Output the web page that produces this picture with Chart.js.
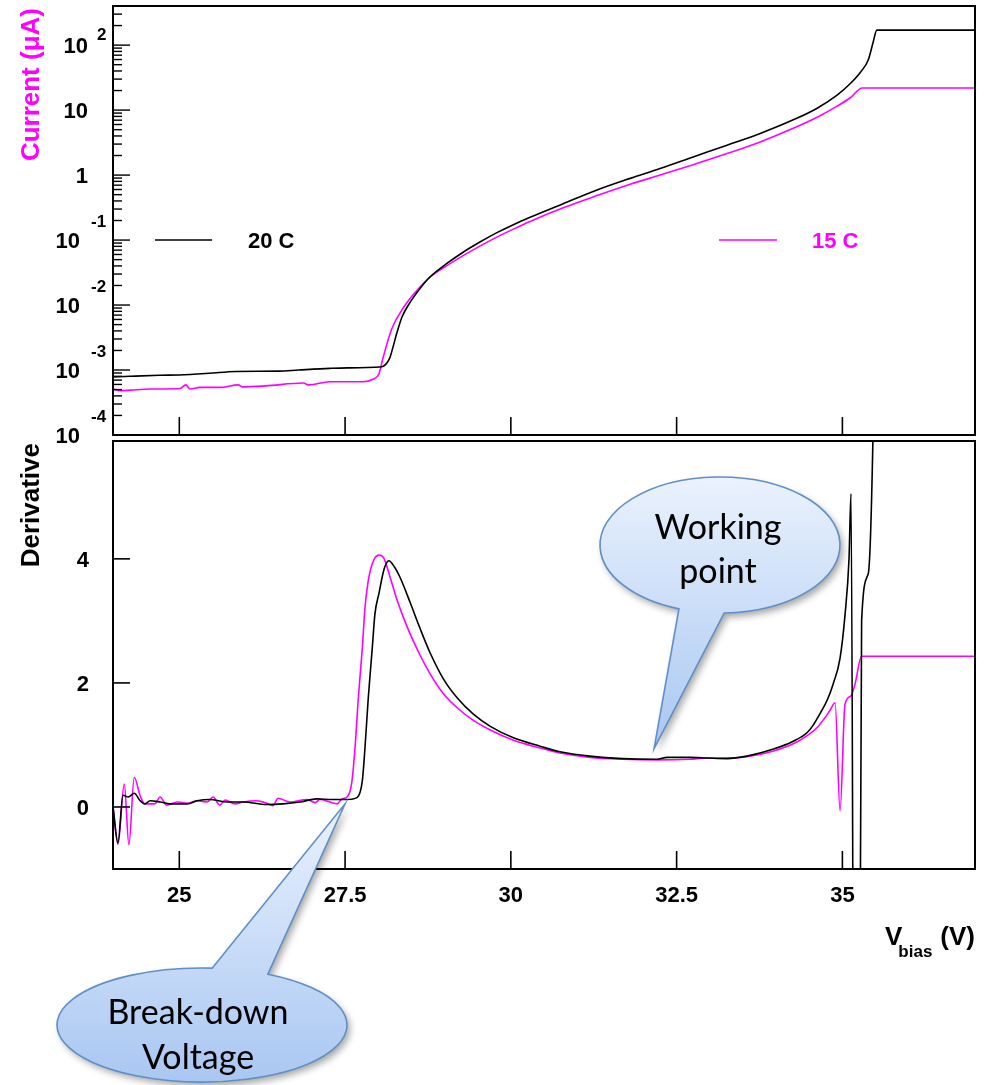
<!DOCTYPE html>
<html>
<head>
<meta charset="utf-8">
<title>SiPM current and derivative vs bias</title>
<script src="https://cdn.jsdelivr.net/npm/chart.js@4/dist/chart.umd.min.js"></script>
<style>
  html, body { margin: 0; padding: 0; background: #fff; }
  #wrap { position: relative; width: 988px; height: 1085px; overflow: hidden; }
  #wrap canvas { position: absolute; left: 0; top: 0; }
</style>
</head>
<body>
<div id="wrap">
  <canvas id="iv" width="988" height="1085"></canvas>
  <canvas id="deriv" width="988" height="1085"></canvas>
</div>
<script>
// ---- measured data -------------------------------------------------------
const seriesLabels = ['20 C', '15 C'];
const seriesColors = ['#000000', '#ff00ff'];

// I-V curve at 20 C: bias (V) and current (uA)
const iv20V = [24.0, 24.26, 24.7, 25.0, 25.45, 25.85, 26.5, 26.8, 27.27, 27.53,
  28.03, 28.17, 28.22, 28.28, 28.36, 28.48, 28.63, 28.78, 29.04, 29.28,
  29.54, 29.79, 30.03, 30.29, 30.79, 31.3, 31.8, 32.25, 32.75, 33.26,
  33.76, 34.26, 34.62, 34.92, 35.12, 35.27, 35.39, 35.46, 35.52, 37.0];
const iv20I = [7.8e-4, 8.0e-4, 8.3e-4, 8.4e-4, 8.9e-4, 9.5e-4, 9.6e-4, 1.0e-3, 1.06e-3, 1.08e-3,
  1.11e-3, 1.5e-3, 2.2e-3, 3.7e-3, 6.6e-3, 0.011, 0.018, 0.027, 0.044, 0.065,
  0.094, 0.13, 0.171, 0.224, 0.363, 0.59, 0.89, 1.26, 1.9, 2.88,
  4.37, 7.08, 10.7, 17, 25.7, 38, 58.9, 107, 170, 170];

// I-V curve at 15 C
const iv15V = [24.0, 24.1, 24.26, 24.56, 25.01, 25.1, 25.16, 25.31, 25.61, 25.89,
  25.95, 26.3, 26.87, 26.95, 27.27, 27.77, 27.92, 28.01, 28.07, 28.2,
  28.33, 28.48, 28.63, 28.78, 29.04, 29.28, 29.54, 29.79, 30.03, 30.29,
  30.79, 31.3, 31.8, 32.25, 32.75, 33.26, 33.76, 34.26, 34.62, 34.92,
  35.12, 35.3, 37.0];
const iv15I = [5.1e-4, 4.8e-4, 4.9e-4, 5.1e-4, 5.2e-4, 5.9e-4, 5.1e-4, 5.4e-4, 5.4e-4, 5.9e-4,
  5.5e-4, 5.7e-4, 6.3e-4, 5.9e-4, 6.6e-4, 6.6e-4, 7.2e-4, 8.7e-4, 1.5e-3, 4.2e-3,
  7.6e-3, 0.0126, 0.019, 0.027, 0.0407, 0.0575, 0.0813, 0.111, 0.146, 0.193,
  0.313, 0.484, 0.724, 1.0, 1.445, 2.14, 3.24, 5.25, 7.76, 11.5,
  15.5, 21.9, 21.9];

// logarithmic derivative at 20 C
const d20V = [24.0, 24.075, 24.15, 24.23, 24.32, 24.41, 24.48, 24.56, 24.71, 24.86,
  25.12, 25.27, 25.46, 25.72, 25.96, 26.32, 26.56, 26.82, 27.07, 27.32,
  27.53, 27.68, 27.76, 27.80, 27.85, 27.91, 27.95, 28.01, 28.09, 28.16,
  28.25, 28.33, 28.48, 28.63, 28.78, 28.98, 29.19, 29.43, 29.69, 30.03,
  30.44, 30.74, 31.19, 31.69, 32.2, 32.36, 32.7, 32.96, 33.26, 33.56,
  33.95, 34.26, 34.47, 34.56, 34.66, 34.77, 34.86, 34.965, 35.04, 35.10,
  35.13, 35.18, 35.25, 35.29, 35.39, 35.46, 35.5];
const d20D = [0.0, -0.58, 0.19, 0.16, 0.22, 0.10, 0.05, 0.10, 0.08, 0.05,
  0.05, 0.10, 0.12, 0.08, 0.08, 0.04, 0.05, 0.08, 0.13, 0.12,
  0.12, 0.15, 0.42, 0.95, 1.76, 2.56, 3.11, 3.44, 3.84, 3.97,
  3.86, 3.70, 3.30, 2.88, 2.49, 2.07, 1.76, 1.50, 1.30, 1.12,
  0.98, 0.89, 0.82, 0.78, 0.77, 0.80, 0.80, 0.79, 0.78, 0.82,
  0.93, 1.06, 1.20, 1.32, 1.50, 1.72, 1.98, 2.40, 3.10, 4.00,
  5.05, -6, -6, 3.0, 3.76, 5.9, 9];

// logarithmic derivative at 15 C
const d15V = [24.0, 24.075, 24.17, 24.24, 24.32, 24.41, 24.48, 24.63, 24.71, 24.81,
  24.97, 25.12, 25.27, 25.42, 25.51, 25.61, 25.69, 25.84, 25.96, 26.17,
  26.32, 26.41, 26.49, 26.67, 26.92, 27.05, 27.12, 27.27, 27.38, 27.45,
  27.53, 27.60, 27.65, 27.70, 27.76, 27.80, 27.85, 27.92, 28.01, 28.09,
  28.18, 28.28, 28.43, 28.63, 28.78, 28.98, 29.19, 29.43, 29.69, 30.03,
  30.44, 30.74, 31.19, 31.69, 32.2, 32.7, 32.96, 33.26, 33.56, 33.95,
  34.26, 34.47, 34.62, 34.81, 34.89, 34.965, 35.04, 35.13, 35.19, 35.29, 37.0];
const d15D = [0.0, -0.60, 0.37, -0.61, 0.48, 0.18, 0.05, 0.05, 0.16, 0.03,
  0.08, 0.06, 0.10, 0.08, 0.16, 0.03, 0.11, 0.05, 0.08, 0.10,
  0.06, 0.02, 0.14, 0.08, 0.12, 0.07, 0.12, 0.08, 0.05, 0.13,
  0.16, 0.39, 0.95, 1.76, 2.56, 3.21, 3.65, 3.95, 4.06, 4.00,
  3.70, 3.35, 2.92, 2.45, 2.15, 1.83, 1.60, 1.40, 1.24, 1.08,
  0.95, 0.87, 0.80, 0.77, 0.76, 0.77, 0.79, 0.79, 0.81, 0.90,
  1.02, 1.15, 1.28, 1.55, 1.68, -0.06, 1.66, 1.79, 1.98, 2.43, 2.43];

// axis ticks
const biasTicks = [25, 27.5, 30, 32.5, 35];
const biasRange = [24, 37];
const currentDecades = [-4, -3, -2, -1, 0, 1, 2];
const currentRange = [1e-4, 400];
const derivTicks = [0, 2, 4];
const derivRange = [-1, 5.9];

// callout notes: text lines and the point (bias, derivative) they point at
const noteWorking = { lines: ['Working', 'point'], at: [32.16, 0.94] };
const noteBreakdown = { lines: ['Break-down', 'Voltage'], at: [27.5, 0.05] };

// ---- helpers ---------------------------------------------------------------
const AX_FONT = '"Liberation Sans", Arial, Helvetica, sans-serif';
const NOTE_FONT = 'Lato, "Open Sans", sans-serif';

function pairs(xs, ys) { return xs.map((x, i) => ({ x: x, y: ys[i] })); }

function lineSet(label, xs, ys, color) {
  return {
    label: label, data: pairs(xs, ys), borderColor: color, backgroundColor: color,
    borderWidth: 1.6, pointRadius: 0, fill: false, cubicInterpolationMode: 'monotone'
  };
}

function drawFrame(ctx, a) {
  ctx.save();
  ctx.strokeStyle = '#000';
  ctx.lineWidth = 2;
  ctx.strokeRect(a.left, a.top, a.right - a.left, a.bottom - a.top);
  ctx.restore();
}

function tickLine(ctx, x1, y1, x2, y2) {
  ctx.beginPath(); ctx.moveTo(x1, y1); ctx.lineTo(x2, y2); ctx.stroke();
}

function drawBiasTicks(ctx, a, xs) {
  ctx.save();
  ctx.strokeStyle = '#000'; ctx.lineWidth = 1.6;
  biasTicks.forEach(v => {
    const px = xs.getPixelForValue(v);
    tickLine(ctx, px, a.bottom, px, a.bottom - 18);
  });
  ctx.restore();
}

function verticalTitle(ctx, text, color, baselineX, topY) {
  ctx.save();
  ctx.translate(baselineX, topY);
  ctx.rotate(-Math.PI / 2);
  ctx.font = 'bold 26px ' + AX_FONT;
  ctx.fillStyle = color;
  ctx.textAlign = 'right';
  ctx.textBaseline = 'alphabetic';
  ctx.fillText(text, 0, 0);
  ctx.restore();
}

// speech-bubble note: ellipse joined to a pointed tail
function drawNote(ctx, note, tip, shape) {
  const pt = t => [shape.cx + shape.rx * Math.cos(t), shape.cy + shape.ry * Math.sin(t)];
  const tA = shape.tailLeft * Math.PI / 180;
  const tB = shape.tailRight * Math.PI / 180;
  const A = pt(tA), B = pt(tB);
  const top = Math.min(shape.cy - shape.ry, tip[1]);
  const bot = Math.max(shape.cy + shape.ry, tip[1]);

  ctx.save();
  ctx.beginPath();
  ctx.moveTo(A[0], A[1]);
  ctx.lineTo(tip[0], tip[1]);
  ctx.lineTo(B[0], B[1]);
  ctx.ellipse(shape.cx, shape.cy, shape.rx, shape.ry, 0, tB, tA, tB < tA);
  ctx.closePath();

  const g = ctx.createLinearGradient(0, top, 0, bot);
  g.addColorStop(0, '#eaf2fd');
  g.addColorStop(1, '#a9c7f2');
  ctx.fillStyle = g;
  ctx.shadowColor = 'rgba(0,0,0,0.35)';
  ctx.shadowBlur = 7;
  ctx.shadowOffsetX = 3;
  ctx.shadowOffsetY = 4;
  ctx.fill();
  ctx.shadowColor = 'rgba(0,0,0,0)';
  ctx.lineWidth = 1.6;
  ctx.strokeStyle = '#5f8fc6';
  ctx.stroke();

  ctx.fillStyle = '#000';
  ctx.font = shape.fontSize + 'px ' + NOTE_FONT;
  ctx.textAlign = 'center';
  ctx.textBaseline = 'alphabetic';
  note.lines.forEach((s, i) => ctx.fillText(s, shape.textX, shape.textY + i * shape.lineGap));
  ctx.restore();
}

// ---- upper pad: current on a log scale --------------------------------------
const ivDecor = {
  id: 'ivDecor',
  afterDraw(chart) {
    const { ctx, chartArea: a, scales: { x, y } } = chart;
    drawFrame(ctx, a);

    // decade and sub-decade ticks on the left edge
    ctx.save();
    ctx.strokeStyle = '#000'; ctx.lineWidth = 1.4;
    currentDecades.forEach(e => {
      for (let m = 1; m <= 9; m++) {
        const v = m * Math.pow(10, e);
        if (v < currentRange[0] * 0.999 || v > currentRange[1] * 0.98) continue;
        const py = y.getPixelForValue(v);
        tickLine(ctx, a.left, py, a.left + (m === 1 ? 17 : 9), py);
      }
    });
    ctx.restore();
    drawBiasTicks(ctx, a, x);

    // decade labels written as 10 with a raised exponent
    ctx.save();
    ctx.fillStyle = '#000';
    ctx.textBaseline = 'alphabetic';
    currentDecades.forEach(e => {
      const py = y.getPixelForValue(Math.pow(10, e));
      ctx.font = 'bold 22px ' + AX_FONT;
      if (e === 0 || e === 1) {
        ctx.textAlign = 'right';
        ctx.fillText(e === 0 ? '1' : '10', 88, py + 8);
      } else if (e > 1) {
        ctx.textAlign = 'right';
        ctx.fillText('10', 88, py + 8);
        ctx.font = 'bold 17px ' + AX_FONT;
        ctx.textAlign = 'left';
        ctx.fillText(String(e), 97, py - 5);
      } else {
        ctx.textAlign = 'right';
        ctx.fillText('10', 80, py + 8);
        ctx.font = 'bold 17px ' + AX_FONT;
        ctx.textAlign = 'left';
        ctx.fillText(String(e), 91, py - 13);
      }
    });
    ctx.restore();

    verticalTitle(ctx, 'Current (\u03bcA)', '#ff00ff', 39, 8);

    // legend entries
    ctx.save();
    ctx.lineWidth = 1.6;
    ctx.font = 'bold 22px ' + AX_FONT;
    ctx.textAlign = 'left';
    ctx.textBaseline = 'alphabetic';
    const legendPos = [[155, 212, 248], [719, 777, 812]];
    seriesLabels.forEach((lab, i) => {
      const [x1, x2, tx] = legendPos[i];
      ctx.strokeStyle = seriesColors[i];
      tickLine(ctx, x1, 240, x2, 240);
      ctx.fillStyle = seriesColors[i];
      ctx.fillText(lab, tx, 248);
    });
    ctx.restore();
  }
};

new Chart(document.getElementById('iv'), {
  type: 'line',
  data: {
    datasets: [
      lineSet(seriesLabels[0], iv20V, iv20I, seriesColors[0]),
      lineSet(seriesLabels[1], iv15V, iv15I, seriesColors[1])
    ]
  },
  options: {
    responsive: false, animation: false, devicePixelRatio: 1,
    layout: { padding: { left: 113, right: 13, top: 6, bottom: 650 } },
    plugins: { legend: { display: false }, tooltip: { enabled: false } },
    scales: {
      x: { type: 'linear', min: biasRange[0], max: biasRange[1], display: false },
      y: { type: 'logarithmic', min: currentRange[0], max: currentRange[1], display: false }
    }
  },
  plugins: [ivDecor]
});

// ---- lower pad: derivative ------------------------------------------------
const derivDecor = {
  id: 'derivDecor',
  afterDraw(chart) {
    const { ctx, chartArea: a, scales: { x, y } } = chart;
    drawFrame(ctx, a);

    ctx.save();
    ctx.strokeStyle = '#000'; ctx.lineWidth = 1.6;
    derivTicks.forEach(v => {
      const py = y.getPixelForValue(v);
      tickLine(ctx, a.left, py, a.left + 17, py);
    });
    ctx.restore();
    drawBiasTicks(ctx, a, x);

    ctx.save();
    ctx.fillStyle = '#000';
    ctx.font = 'bold 22px ' + AX_FONT;
    ctx.textBaseline = 'alphabetic';
    ctx.textAlign = 'right';
    derivTicks.forEach(v => ctx.fillText(String(v), 89, y.getPixelForValue(v) + 8));
    ctx.textAlign = 'center';
    biasTicks.forEach(v => ctx.fillText(String(v), x.getPixelForValue(v), a.bottom + 33));

    // V_bias (V) axis title, right aligned to the frame
    ctx.textAlign = 'left';
    ctx.font = 'bold 26px ' + AX_FONT;
    const wUnit = ctx.measureText('(V)').width;
    const xUnit = a.right - wUnit;
    ctx.fillText('(V)', xUnit, a.bottom + 76);
    ctx.font = 'bold 17px ' + AX_FONT;
    const wSub = ctx.measureText('bias').width;
    const xSub = xUnit - 8 - wSub;
    ctx.fillText('bias', xSub, a.bottom + 88);
    ctx.font = 'bold 26px ' + AX_FONT;
    const wV = ctx.measureText('V').width;
    ctx.fillText('V', xSub - wV + 4, a.bottom + 76);
    ctx.restore();

    verticalTitle(ctx, 'Derivative', '#000', 39, a.top + 2);

    const tipW = [x.getPixelForValue(noteWorking.at[0]), y.getPixelForValue(noteWorking.at[1])];
    drawNote(ctx, noteWorking, tipW, {
      cx: 720, cy: 545, rx: 120, ry: 68, tailLeft: 110, tailRight: 88,
      fontSize: 34, textX: 718, textY: 539, lineGap: 44
    });
    const tipB = [x.getPixelForValue(noteBreakdown.at[0]), y.getPixelForValue(noteBreakdown.at[1])];
    drawNote(ctx, noteBreakdown, tipB, {
      cx: 202, cy: 1025, rx: 145, ry: 57, tailLeft: -86, tailRight: -63,
      fontSize: 34, textX: 198, textY: 1024, lineGap: 45
    });
  }
};

new Chart(document.getElementById('deriv'), {
  type: 'line',
  data: {
    datasets: [
      lineSet(seriesLabels[0], d20V, d20D, seriesColors[0]),
      lineSet(seriesLabels[1], d15V, d15D, seriesColors[1])
    ]
  },
  options: {
    responsive: false, animation: false, devicePixelRatio: 1,
    layout: { padding: { left: 113, right: 13, top: 441, bottom: 216 } },
    plugins: { legend: { display: false }, tooltip: { enabled: false } },
    scales: {
      x: { type: 'linear', min: biasRange[0], max: biasRange[1], display: false },
      y: { type: 'linear', min: derivRange[0], max: derivRange[1], display: false }
    }
  },
  plugins: [derivDecor]
});
</script>
</body>
</html>
